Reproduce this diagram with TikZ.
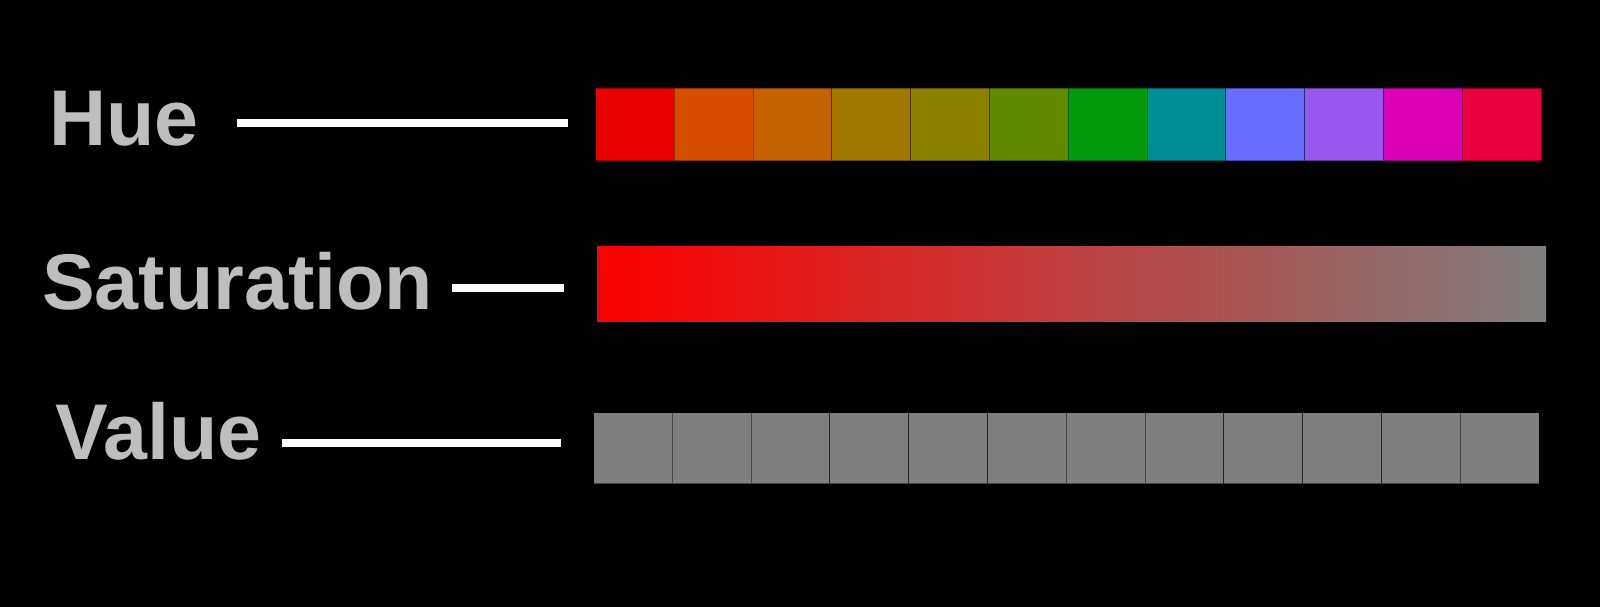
\documentclass[tikz,border=0pt]{standalone}
\usepackage{fontspec}
\setmainfont{Liberation Sans}
\usetikzlibrary{positioning}
\definecolor{labelgray}{HTML}{BEBEBE}
\definecolor{hueA}{HTML}{EB0000}
\definecolor{hueB}{HTML}{D84E00}
\definecolor{hueC}{HTML}{C46100}
\definecolor{hueD}{HTML}{A07800}
\definecolor{hueE}{HTML}{8B8100}
\definecolor{hueF}{HTML}{628A00}
\definecolor{hueG}{HTML}{049A0E}
\definecolor{hueH}{HTML}{008D96}
\definecolor{hueI}{HTML}{6A6BFF}
\definecolor{hueJ}{HTML}{9A56EF}
\definecolor{hueK}{HTML}{DB00B5}
\definecolor{hueL}{HTML}{EB003F}
\definecolor{valgray}{HTML}{7F7F7F}
\definecolor{satred}{HTML}{FF0000}

\begin{document}
\begin{tikzpicture}[x=1pt, y=-1pt,
  lbl/.style={inner sep=0, anchor=base west, text=labelgray,
              font=\fontsize{79}{82}\selectfont\bfseries},
  cell/.style={draw=black, draw opacity=0.35, line width=1pt, inner sep=0,
               minimum width=78.8pt, anchor=north west},
  link/.style={white, line width=8pt}]
\fill[black] (0,0) rectangle (1600,607);
\useasboundingbox (0,0) rectangle (1600,607);

% labels
\node[lbl] (hue-lbl) at (49,146) {Hue};
\node[lbl] (sat-lbl) at (42,309) {Saturation};
\node[lbl] (val-lbl) at (55,459) {Value};

% hue cells
\foreach \c [count=\i] in {hueA,hueB,hueC,hueD,hueE,hueF,hueG,hueH,hueI,hueJ,hueK,hueL}
  \node[cell, fill=\c, minimum height=72pt] (hue-\i) at ({595+(\i-1)*78.8},88) {};

% saturation strip
\node[inner sep=0, anchor=north west, minimum width=949pt, minimum height=75pt,
      left color=satred, right color=valgray] (sat-bar) at (597,246) {};

% value cells
\foreach \i in {1,...,12}
  \node[cell, fill=valgray, draw opacity=0.45, minimum height=71pt] (val-\i) at ({593+(\i-1)*78.8},412) {};

% connectors
\coordinate (hue-ln) at (237,123.5);
\coordinate (sat-ln) at (452,288);
\coordinate (val-ln) at (282,443);
\draw[link, shorten >=27pt] (hue-ln) -- (hue-ln -| hue-1.west);
\draw[link, shorten >=33pt] (sat-ln) -- (sat-ln -| sat-bar.west);
\draw[link, shorten >=32pt] (val-ln) -- (val-ln -| val-1.west);
\end{tikzpicture}
\end{document}
